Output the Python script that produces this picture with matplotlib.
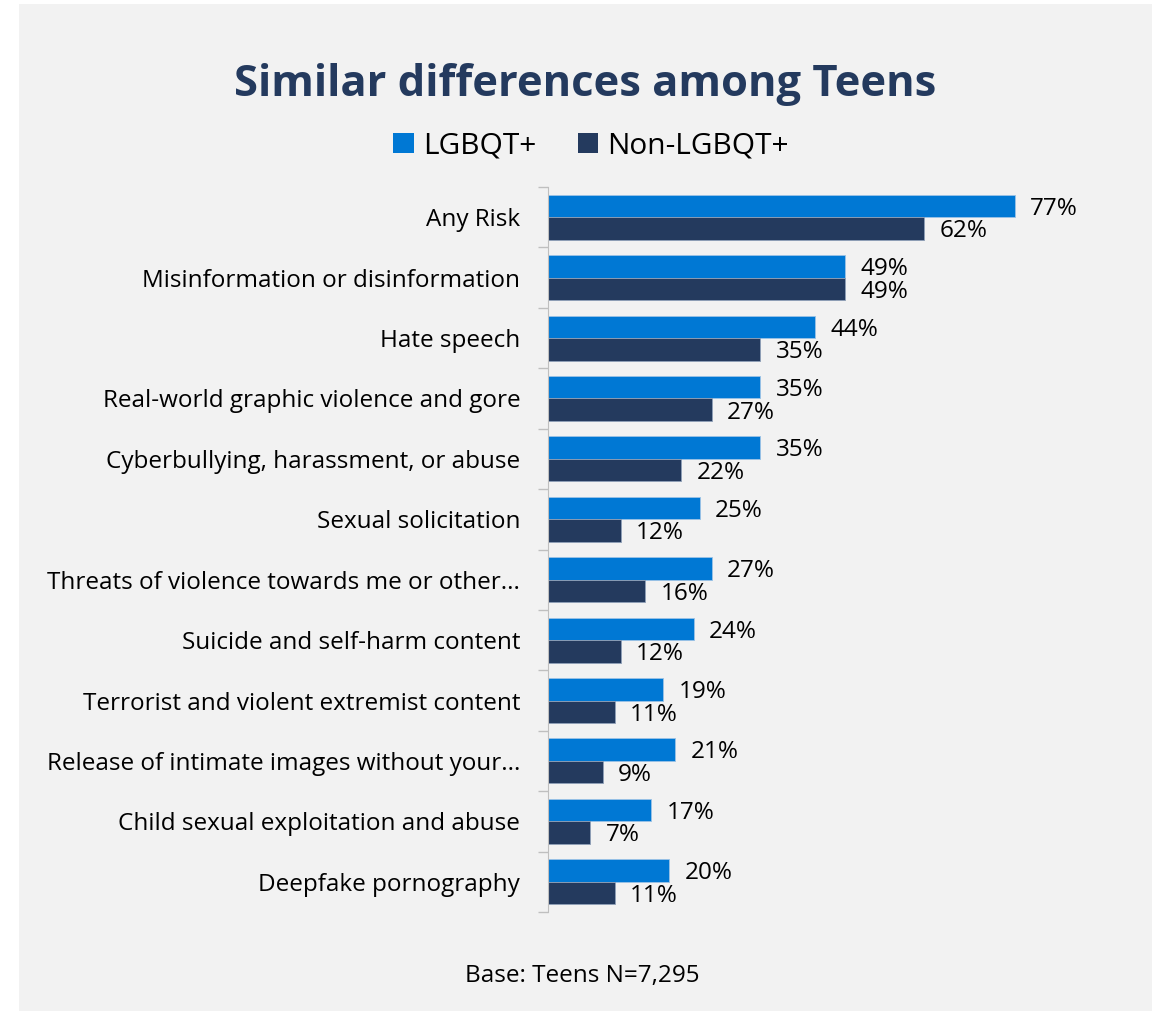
import numpy as np
import matplotlib
matplotlib.use('Agg')
import matplotlib.pyplot as plt
from matplotlib.patches import Rectangle, Patch

# data
categories = ['Any Risk', 'Misinformation or disinformation', 'Hate speech',
              'Real-world graphic violence and gore', 'Cyberbullying, harassment, or abuse',
              'Sexual solicitation', 'Threats of violence towards me or other...',
              'Suicide and self-harm content', 'Terrorist and violent extremist content',
              'Release of intimate images without your...', 'Child sexual exploitation and abuse',
              'Deepfake pornography']
lgbqt = [77, 49, 44, 35, 35, 25, 27, 24, 19, 21, 17, 20]
non_lgbqt = [62, 49, 35, 27, 22, 12, 16, 12, 11, 9, 7, 11]
series_names = ['LGBQT+', 'Non-LGBQT+']

blue = '#0078D4'
navy = '#243A5E'
plt.rcParams['font.family'] = ['Open Sans', 'DejaVu Sans']

W, H = 1162, 1011
fig = plt.figure(figsize=(W / 100, H / 100), dpi=100, facecolor='white')
fig.patches.append(Rectangle((19 / W, 0), (1152 - 19) / W, (H - 4) / H,
                             transform=fig.transFigure, facecolor='#F2F2F2',
                             edgecolor='none', zorder=-10))

ax = fig.add_axes([548 / W, (H - 912) / H, (1100 - 548) / W, 725 / H])
ax.set_facecolor('none')

y = np.arange(len(categories))
bh = 0.373
ax.barh(y - bh / 2, lgbqt, height=bh, color=blue, edgecolor='#9DC3E6', linewidth=0.6)
ax.barh(y + bh / 2, non_lgbqt, height=bh, color=navy, edgecolor='#8FA0B8', linewidth=0.6)

# value labels just right of each bar
for i in range(len(categories)):
    ax.annotate(f'{lgbqt[i]}%', (lgbqt[i], y[i] - bh / 2), xytext=(11, -2),
                textcoords='offset points', va='center', ha='left', fontsize=17.5, color='black')
    ax.annotate(f'{non_lgbqt[i]}%', (non_lgbqt[i], y[i] + bh / 2), xytext=(11, -2),
                textcoords='offset points', va='center', ha='left', fontsize=17.5, color='black')

ax.set_xlim(0, 91)
ax.set_ylim(len(categories) - 0.5, -0.5)
ax.set_yticks(y)
ax.set_yticklabels(categories, fontsize=17.5, color='black')
ax.set_yticks(np.arange(len(categories) + 1) - 0.5, minor=True)
ax.tick_params(axis='y', which='major', length=0, pad=20)
ax.tick_params(axis='y', which='minor', length=7.5, color='#BFBFBF', width=1)
ax.set_xticks([])
for s in ['top', 'right', 'bottom']:
    ax.spines[s].set_visible(False)
ax.spines['left'].set_color('#BFBFBF')

fig.text(585 / W, 1 - 85 / H, 'Similar differences among Teens', ha='center', va='center',
         fontsize=31.3, fontweight='bold', color=navy)

handles = [Patch(facecolor=blue), Patch(facecolor=navy)]
fig.legend(handles, series_names, loc='center', bbox_to_anchor=(591 / W, 1 - 146 / H),
           ncol=2, frameon=False, fontsize=21.5, handlelength=0.68, handleheight=0.68,
           handletextpad=0.3, columnspacing=1.4)

fig.text(582 / W, 1 - 976 / H, 'Base: Teens N=7,295', ha='center', va='center',
         fontsize=17.5, color='black')

fig.savefig('out.png', dpi=100, facecolor='white')
